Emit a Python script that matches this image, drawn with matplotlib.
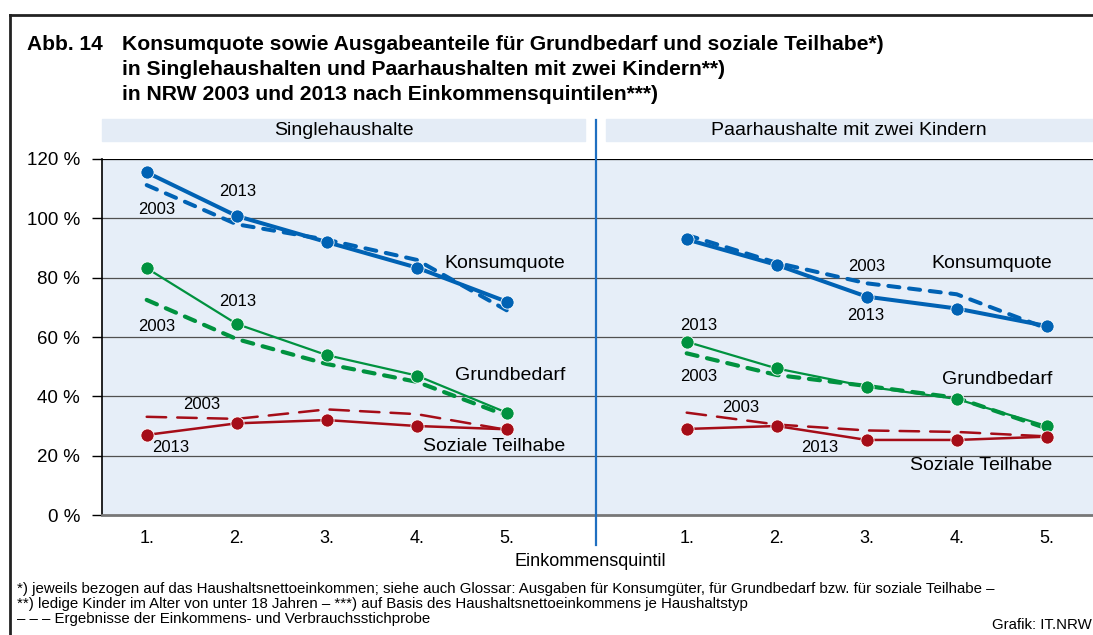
import numpy as np
import matplotlib.pyplot as plt
from matplotlib.lines import Line2D

plt.rcParams['font.family'] = ['Liberation Sans', 'DejaVu Sans']
plt.rcParams['lines.scale_dashes'] = False

# Daten (Anteile in %)
quintile = [1, 2, 3, 4, 5]
quintile_labels = ['1.', '2.', '3.', '4.', '5.']
yticks = [0, 20, 40, 60, 80, 100, 120]

# Singlehaushalte
single_konsum_2013 = [115.5, 100.8, 92.0, 83.4, 71.9]
single_konsum_2003 = [111.2, 98.0, 92.8, 86.0, 69.0]
single_grund_2013 = [83.2, 64.4, 53.9, 47.0, 34.5]
single_grund_2003 = [72.5, 59.3, 50.9, 44.9, 33.5]
single_sozial_2013 = [27.0, 30.9, 32.0, 30.0, 28.9]
single_sozial_2003 = [33.1, 32.4, 35.6, 34.0, 28.7]

# Paarhaushalte mit zwei Kindern
paar_konsum_2013 = [92.9, 84.3, 73.6, 69.6, 63.7]
paar_konsum_2003 = [94.4, 85.0, 78.1, 74.4, 62.9]
paar_grund_2013 = [58.4, 49.4, 43.3, 39.1, 30.0]
paar_grund_2003 = [54.5, 47.2, 43.5, 39.5, 29.2]
paar_sozial_2013 = [29.0, 30.0, 25.3, 25.3, 26.4]
paar_sozial_2003 = [34.5, 30.5, 28.5, 28.0, 26.5]

blue = '#0062b4'
green = '#00923f'
red = '#a50d18'
bg = '#e6eef8'

W, H = 1093, 635
fig = plt.figure(figsize=(W / 100, H / 100), dpi=100)

# Achse: x=1 bei 146.7 px, 90 px je Quintil
ax_left = 102
x0 = 1 - (146.7 - ax_left) / 90
x1 = 1 + (W - 146.7) / 90
ax = fig.add_axes([ax_left / W, (H - 515) / H, (W - ax_left) / W, 356 / H])
ax.set_xlim(x0, x1)
ax.set_ylim(0, 120)
ax.set_facecolor(bg)

for s in ['top', 'right']:
    ax.spines[s].set_visible(False)
ax.spines['left'].set_color('black')
ax.spines['left'].set_linewidth(1.2)
ax.spines['bottom'].set_color('#777777')
ax.spines['bottom'].set_linewidth(2)

for v in yticks[1:]:
    ax.axhline(v, color='black' if v == 120 else '#505050', lw=0.9, zorder=1)

ax.set_yticks(yticks)
ax.set_yticklabels([f'{v} %' for v in yticks], fontsize=13.5)
ax.tick_params(axis='y', length=7.2, width=1, pad=8.6, color='black')

offset = 6
xl = np.array(quintile)
xr = xl + offset
ax.set_xticks(list(xl) + list(xr))
ax.set_xticklabels(quintile_labels * 2, fontsize=13)
ax.tick_params(axis='x', length=0, pad=11)


def draw(x, v2003, v2013, color, lw_solid, lw_dash, dashes):
    ax.plot(x, v2003, color=color, lw=lw_dash, dashes=dashes,
            dash_capstyle='round', zorder=3)
    ax.plot(x, v2013, color=color, lw=lw_solid, marker='o', markersize=9.5,
            markeredgecolor='white', markeredgewidth=0.6, zorder=4)


for x, k03, k13, g03, g13, s03, s13 in [
        (xl, single_konsum_2003, single_konsum_2013, single_grund_2003,
         single_grund_2013, single_sozial_2003, single_sozial_2013),
        (xr, paar_konsum_2003, paar_konsum_2013, paar_grund_2003,
         paar_grund_2013, paar_sozial_2003, paar_sozial_2013)]:
    draw(x, k03, k13, blue, 2.9, 2.9, (8, 7))
    draw(x, g03, g13, green, 1.6, 3.0, (8, 7))
    draw(x, s03, s13, red, 1.8, 1.8, (14, 8))

# Beschriftungen
fs_y = 12
fs_s = 14
ax.text(2.01, 109.2, '2013', fontsize=fs_y, ha='center', va='center')
ax.text(1.11, 103.0, '2003', fontsize=fs_y, ha='center', va='center')
ax.text(5.65, 84.8, 'Konsumquote', fontsize=fs_s, ha='right', va='center')
ax.text(2.01, 72.1, '2013', fontsize=fs_y, ha='center', va='center')
ax.text(1.11, 63.4, '2003', fontsize=fs_y, ha='center', va='center')
ax.text(5.65, 46.9, 'Grundbedarf', fontsize=fs_s, ha='right', va='center')
ax.text(1.61, 37.4, '2003', fontsize=fs_y, ha='center', va='center')
ax.text(1.27, 22.9, '2013', fontsize=fs_y, ha='center', va='center')
ax.text(5.65, 23.0, 'Soziale Teilhabe', fontsize=fs_s, ha='right', va='center')

ax.text(9.0, 83.7, '2003', fontsize=fs_y, ha='center', va='center')
ax.text(11.06, 84.8, 'Konsumquote', fontsize=fs_s, ha='right', va='center')
ax.text(8.99, 67.1, '2013', fontsize=fs_y, ha='center', va='center')
ax.text(7.13, 63.8, '2013', fontsize=fs_y, ha='center', va='center')
ax.text(7.13, 46.6, '2003', fontsize=fs_y, ha='center', va='center')
ax.text(11.06, 45.7, 'Grundbedarf', fontsize=fs_s, ha='right', va='center')
ax.text(7.6, 36.3, '2003', fontsize=fs_y, ha='center', va='center')
ax.text(8.48, 22.7, '2013', fontsize=fs_y, ha='center', va='center')
ax.text(11.06, 16.6, 'Soziale Teilhabe', fontsize=fs_s, ha='right', va='center')

# Kopfbänder und Trennlinie
fig.patches.append(plt.Rectangle((ax_left / W, (H - 141) / H), (585 - ax_left) / W, 22 / H,
                                 transform=fig.transFigure, color='#e4ecf6', zorder=0))
fig.patches.append(plt.Rectangle((606 / W, (H - 141) / H), (W - 606) / W, 22 / H,
                                 transform=fig.transFigure, color='#e4ecf6', zorder=0))
fig.text(343.5 / W, 1 - 130.5 / H, 'Singlehaushalte', fontsize=14, ha='center', va='center')
fig.text(849 / W, 1 - 130.5 / H, 'Paarhaushalte mit zwei Kindern', fontsize=14,
         ha='center', va='center')
fig.add_artist(Line2D([596 / W, 596 / W], [1 - 120 / H, 1 - 545 / H],
                      color='#1f6fc0', lw=1.6, transform=fig.transFigure, zorder=5))

# Rahmen
fig.add_artist(Line2D([10 / W, 1], [1 - 15 / H, 1 - 15 / H], color='#222222', lw=2,
                      transform=fig.transFigure))
fig.add_artist(Line2D([10 / W, 10 / W], [1 - 15 / H, 0], color='#222222', lw=2,
                      transform=fig.transFigure))

# Titel
fig.text(27 / W, 1 - 45 / H, 'Abb. 14', fontsize=15, fontweight='bold', va='center')
titel = ['Konsumquote sowie Ausgabeanteile für Grundbedarf und soziale Teilhabe*)',
         'in Singlehaushalten und Paarhaushalten mit zwei Kindern**)',
         'in NRW 2003 und 2013 nach Einkommensquintilen***)']
for i, t in enumerate(titel):
    fig.text(122 / W, 1 - (45 + 24.5 * i) / H, t, fontsize=15.2, fontweight='bold',
             va='center')

fig.text(590 / W, 1 - 562 / H, 'Einkommensquintil', fontsize=13, ha='center', va='center')

fuss = ['*) jeweils bezogen auf das Haushaltsnettoeinkommen; siehe auch Glossar: '
        'Ausgaben für Konsumgüter, für Grundbedarf bzw. für soziale Teilhabe –',
        '**) ledige Kinder im Alter von unter 18 Jahren – ***) auf Basis des '
        'Haushaltsnettoeinkommens je Haushaltstyp',
        '– – – Ergebnisse der Einkommens- und Verbrauchsstichprobe']
for i, t in enumerate(fuss):
    fig.text(16.7 / W, 1 - (589 + 15.2 * i) / H, t, fontsize=10.8, va='center')
fig.text(1 - 1 / W, 1 - 625 / H, 'Grafik: IT.NRW', fontsize=10.8, ha='right', va='center')

fig.savefig('out.png', dpi=100)
